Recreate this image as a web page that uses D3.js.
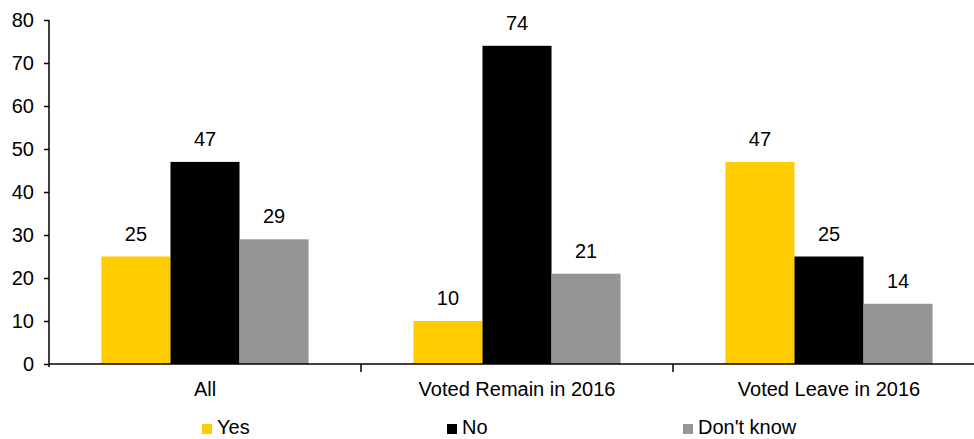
<!DOCTYPE html>
<html><head><meta charset="utf-8">
<script src="https://cdn.jsdelivr.net/npm/d3@7/dist/d3.min.js"></script>
<style>body{margin:0;background:#fff}svg{display:block;font-family:"Liberation Sans",Arial,sans-serif}</style>
</head><body>
<svg id="c" width="974" height="439"></svg>
<script>
const categories = ["All", "Voted Remain in 2016", "Voted Leave in 2016"];
const seriesNames = ["Yes", "No", "Don't know"];
const yesValues = [25, 10, 47];
const noValues = [47, 74, 25];
const dkValues = [29, 21, 14];
const yTicks = [0, 10, 20, 30, 40, 50, 60, 70, 80];
const colors = ["#FFCC00", "#000000", "#959694"];

const seriesValues = [yesValues, noValues, dkValues];
const svg = d3.select("#c");
const x0 = 49, step = 312;
const x = d3.scaleBand().domain(categories).range([x0, x0 + step * 3]).padding(0);
const xi = d3.scaleBand().domain(seriesNames).range([0, x.bandwidth()]).paddingInner(0).paddingOuter(0.76);
const y = d3.scaleLinear().domain([0, 80]).range([364, 20]);

// y axis
const ya = svg.append("g").attr("transform", `translate(${x0},0)`)
  .call(d3.axisLeft(y).tickValues(yTicks).tickSize(5).tickPadding(10));
ya.select(".domain").attr("stroke", "#000").attr("stroke-width", 1.5).attr("d", `M0,${y(80)}V${y(0)+3}`);
ya.selectAll(".tick line").attr("stroke", "#000").attr("stroke-width", 1.5);
ya.selectAll(".tick text").attr("font-size", 20).attr("fill", "#000").attr("font-family", "Liberation Sans, Arial, sans-serif");

// bars
const g = svg.append("g");
categories.forEach((c, ci) => {
  seriesNames.forEach((s, si) => {
    const v = seriesValues[si][ci];
    const bx = x(c) + xi(s);
    g.append("rect").attr("x", bx).attr("y", y(v)).attr("width", xi.bandwidth()).attr("height", y(0) - y(v)).attr("fill", colors[si]);
    g.append("text").attr("x", bx + xi.bandwidth() / 2).attr("y", y(v) - 16).attr("text-anchor", "middle")
      .attr("font-size", 20).attr("fill", "#000").text(v);
  });
});

// x axis
svg.append("line").attr("x1", x0).attr("x2", 974).attr("y1", y(0)).attr("y2", y(0)).attr("stroke", "#000").attr("stroke-width", 1.5);
const bounds = categories.map(c => x(c)).concat([x(categories[2]) + x.bandwidth()]).slice(1);
bounds.forEach(b => {
  svg.append("line").attr("x1", b).attr("x2", b).attr("y1", y(0)).attr("y2", y(0) + 8).attr("stroke", "#000").attr("stroke-width", 1.5);
});
categories.forEach(c => {
  svg.append("text").attr("x", x(c) + x.bandwidth() / 2).attr("y", 396).attr("text-anchor", "middle")
    .attr("font-size", 20).attr("fill", "#000").text(c);
});

// legend
const legendX = [202, 447, 683];
seriesNames.forEach((s, i) => {
  svg.append("rect").attr("x", legendX[i]).attr("y", 424).attr("width", 10).attr("height", 10).attr("fill", colors[i]);
  svg.append("text").attr("x", legendX[i] + 15).attr("y", 434).attr("font-size", 20).attr("fill", "#000").text(s);
});
</script>
</body></html>
